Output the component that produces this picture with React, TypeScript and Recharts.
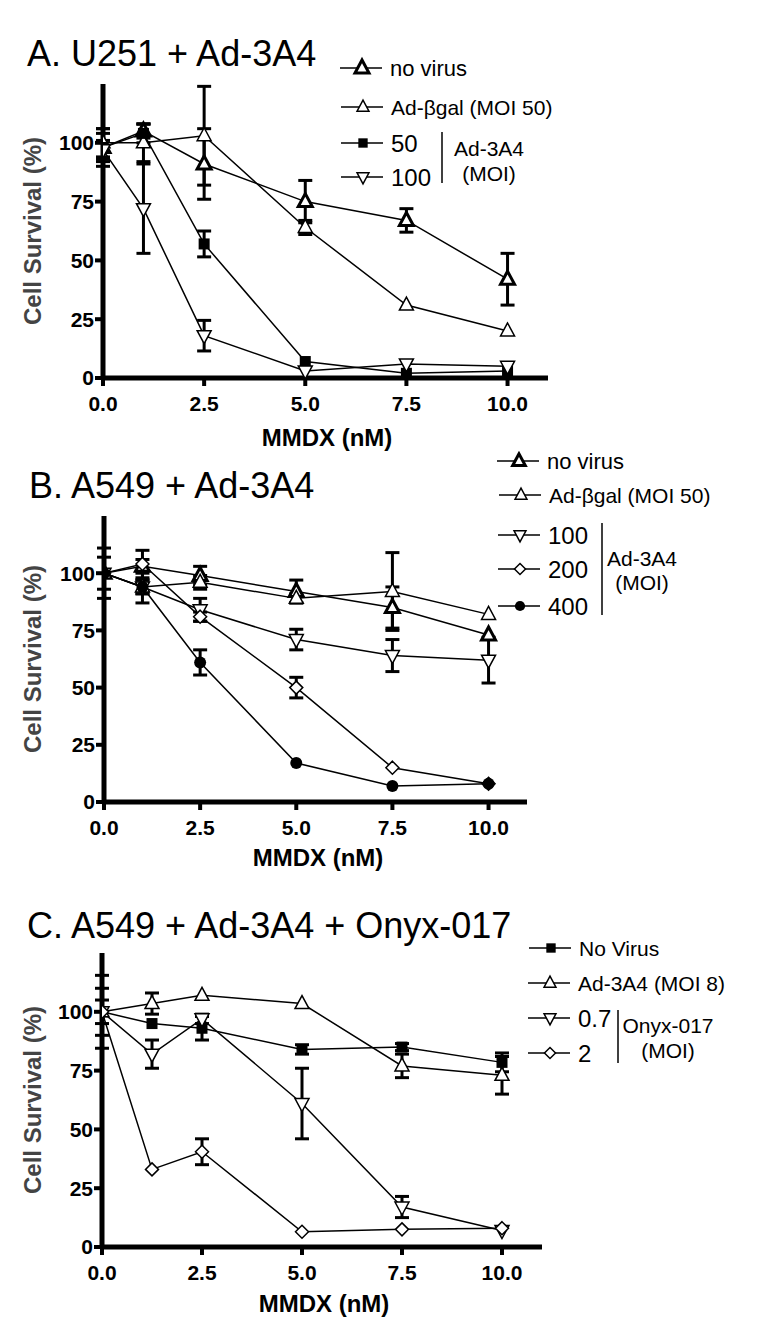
import React from 'react';
import { LineChart, Line, XAxis, YAxis, ErrorBar } from 'recharts';

const FONT = "'Liberation Sans', Arial, Helvetica, sans-serif";

// x positions (MMDX, nM)
const doseAB = [0, 1, 2.5, 5, 7.5, 10];
const doseC = [0, 1.25, 2.5, 5, 7.5, 10];
const xTicks = [0, 2.5, 5, 7.5, 10];
const yTicks = [0, 25, 50, 75, 100];

// Panel A: U251 + Ad-3A4
const aNoVirus = [98, 105, 91, 75, 67, 42];
const aNoVirusErr = [8, 3, 15, 9, 5, 11];
const aBgal = [100, 100, 103, 64, 31, 20];
const aBgalErr = [6, 8, 21, 3, 0, 0];
const a50 = [98, 104, 57, 7, 2, 3];
const a50Err = [6, 4, 5.5, 0, 0, 0];
const a100 = [97, 72, 18, 3, 6, 5];
const a100Err = [4, 19, 6.5, 0, 0, 0];

// Panel B: A549 + Ad-3A4
const bNoVirus = [100, 103, 99, 92, 85, 73];
const bNoVirusErr = [11, 3, 4, 5, 9, 0];
const bBgal = [100, 94, 96, 89, 92, 82];
const bBgalErr = [7, 3, 3, 2, 17, 0];
const b100 = [100, 94, 84, 71, 64, 62];
const b100Err = [0, 7, 5, 4.5, 7, 10];
const b200 = [100, 104, 81, 50, 15, 8];
const b200Err = [0, 6, 2, 4.5, 0, 0];
const b400 = [100, 94, 61, 17, 7, 8];
const b400Err = [0, 3, 5.5, 0, 0, 0];

// Panel C: A549 + Ad-3A4 + Onyx-017
const cNoVirus = [100, 95, 93, 84, 85, 78.5];
const cNoVirusErr = [5, 0, 5, 2, 1.5, 4];
const cAd3A4 = [100, 103.5, 107, 103.5, 77, 73];
const cAd3A4Err = [10, 4.5, 0, 0, 5, 8];
const cOnyx07 = [100, 82, 97, 61, 17, 7];
const cOnyx07Err = [15.5, 6, 2, 15, 4.5, 0];
const cOnyx2 = [100, 33, 40.5, 6.5, 7.5, 8];
const cOnyx2Err = [0, 0, 5.5, 0, 0, 0];

const toRows = (xs: number[], ys: number[], es: number[]) =>
  xs.map((x, i) => ({ x, y: ys[i], e: es[i] }));

type Kind = 'triBold' | 'tri' | 'inv' | 'square' | 'diamond' | 'circle';

function Marker({ kind, cx, cy, k = 1 }: { kind: Kind; cx: number; cy: number; k?: number }) {
  if (cx == null || cy == null) return null;
  switch (kind) {
    case 'triBold':
      return (
        <polygon
          points={`${cx},${cy - 8 * k} ${cx - 7 * k},${cy + 5 * k} ${cx + 7 * k},${cy + 5 * k}`}
          fill="#fff" stroke="#000" strokeWidth={3} strokeLinejoin="miter"
        />
      );
    case 'tri':
      return (
        <polygon
          points={`${cx},${cy - 8 * k} ${cx - 7 * k},${cy + 5 * k} ${cx + 7 * k},${cy + 5 * k}`}
          fill="#fff" stroke="#000" strokeWidth={1.5}
        />
      );
    case 'inv':
      return (
        <polygon
          points={`${cx},${cy + 8 * k} ${cx - 7 * k},${cy - 5 * k} ${cx + 7 * k},${cy - 5 * k}`}
          fill="#fff" stroke="#000" strokeWidth={1.5}
        />
      );
    case 'square':
      return <rect x={cx - 5.5 * k} y={cy - 5.5 * k} width={11 * k} height={11 * k} fill="#000" />;
    case 'diamond':
      return (
        <polygon
          points={`${cx},${cy - 6.5 * k} ${cx + 6.5 * k},${cy} ${cx},${cy + 6.5 * k} ${cx - 6.5 * k},${cy}`}
          fill="#fff" stroke="#000" strokeWidth={1.5}
        />
      );
    default:
      return <circle cx={cx} cy={cy} r={6 * k} fill="#000" />;
  }
}

interface Series {
  name: string;
  kind: Kind;
  rows: { x: number; y: number; e: number }[];
}

interface PanelProps {
  left: number;
  right: number;
  top: number;
  bottom: number;
  series: Series[];
}

function Panel({ left, right, top, bottom, series }: PanelProps) {
  const mt = 20;
  const xh = 50;
  const yw = 60;
  const height = mt + (bottom - top) + xh;
  return (
    <div style={{ position: 'absolute', left: 0, top: top - mt }}>
      <LineChart
        width={762}
        height={height}
        margin={{ top: mt, right: 762 - right, left: left - yw, bottom: 0 }}
      >
        <XAxis
          type="number"
          dataKey="x"
          domain={[0, 11]}
          ticks={xTicks}
          tickFormatter={(v: number) => v.toFixed(1)}
          allowDataOverflow
          height={xh}
          axisLine={{ stroke: '#000', strokeWidth: 5 }}
          tickLine={{ stroke: '#000', strokeWidth: 4 }}
          tickSize={8}
          tickMargin={10}
          tick={{ fill: '#000', fontSize: 21, fontWeight: 700, fontFamily: FONT }}
        />
        <YAxis
          type="number"
          domain={[0, 125]}
          ticks={yTicks}
          allowDataOverflow
          width={yw}
          axisLine={{ stroke: '#000', strokeWidth: 5 }}
          tickLine={{ stroke: '#000', strokeWidth: 4 }}
          tickSize={8}
          tickMargin={1}
          tick={{ fill: '#000', fontSize: 21, fontWeight: 700, fontFamily: FONT }}
        />
        {series.map((s) => (
          <Line
            key={s.name}
            data={s.rows}
            dataKey="y"
            name={s.name}
            stroke="#000"
            strokeWidth={1.5}
            isAnimationActive={false}
            activeDot={false}
            dot={(p: any) => <Marker key={`${s.name}-${p.index}`} kind={s.kind} cx={p.cx} cy={p.cy} />}
          >
            <ErrorBar dataKey="e" direction="y" width={7} stroke="#000" strokeWidth={3} />
          </Line>
        ))}
      </LineChart>
    </div>
  );
}

const seriesA: Series[] = [
  { name: 'no virus', kind: 'triBold', rows: toRows(doseAB, aNoVirus, aNoVirusErr) },
  { name: 'Ad-βgal (MOI 50)', kind: 'tri', rows: toRows(doseAB, aBgal, aBgalErr) },
  { name: '50', kind: 'square', rows: toRows(doseAB, a50, a50Err) },
  { name: '100', kind: 'inv', rows: toRows(doseAB, a100, a100Err) },
];

const seriesB: Series[] = [
  { name: 'no virus', kind: 'triBold', rows: toRows(doseAB, bNoVirus, bNoVirusErr) },
  { name: 'Ad-βgal (MOI 50)', kind: 'tri', rows: toRows(doseAB, bBgal, bBgalErr) },
  { name: '100', kind: 'inv', rows: toRows(doseAB, b100, b100Err) },
  { name: '200', kind: 'diamond', rows: toRows(doseAB, b200, b200Err) },
  { name: '400', kind: 'circle', rows: toRows(doseAB, b400, b400Err) },
];

const seriesC: Series[] = [
  { name: 'No Virus', kind: 'square', rows: toRows(doseC, cNoVirus, cNoVirusErr) },
  { name: 'Ad-3A4 (MOI 8)', kind: 'tri', rows: toRows(doseC, cAd3A4, cAd3A4Err) },
  { name: '0.7', kind: 'inv', rows: toRows(doseC, cOnyx07, cOnyx07Err) },
  { name: '2', kind: 'diamond', rows: toRows(doseC, cOnyx2, cOnyx2Err) },
];

function LegendRow({ x, y, kind, label, size = 21, k = 0.85 }: { x: number; y: number; kind: Kind; label: string; size?: number; k?: number }) {
  return (
    <g>
      <line x1={x} y1={y} x2={x + 42} y2={y} stroke="#000" strokeWidth={1.5} />
      <Marker kind={kind} cx={x + 22} cy={y} k={k} />
      <text x={x + 50} y={y} dominantBaseline="central" fontSize={size} fontFamily={FONT} fill="#000">
        {label}
      </text>
    </g>
  );
}

function Group({ x, y1, y2, cx, lines, ty }: { x: number; y1: number; y2: number; cx: number; lines: string[]; ty: number[] }) {
  return (
    <g>
      <line x1={x} y1={y1} x2={x} y2={y2} stroke="#000" strokeWidth={1.5} />
      {lines.map((t, i) => (
        <text key={t} x={cx} y={ty[i]} textAnchor="middle" dominantBaseline="central" fontSize={21} fontFamily={FONT}>
          {t}
        </text>
      ))}
    </g>
  );
}

function YLabel({ cy }: { cy: number }) {
  return (
    <text
      x={32}
      y={cy}
      transform={`rotate(-90 32 ${cy})`}
      textAnchor="middle"
      dominantBaseline="central"
      fontSize={24}
      fontWeight={700}
      fontFamily={FONT}
      fill="#444"
    >
      Cell Survival (%)
    </text>
  );
}

function XLabel({ cx, cy }: { cx: number; cy: number }) {
  return (
    <text x={cx} y={cy} textAnchor="middle" dominantBaseline="central" fontSize={24} fontWeight={700} fontFamily={FONT}>
      MMDX (nM)
    </text>
  );
}

export default function App() {
  return (
    <div style={{ position: 'absolute', left: 0, top: 0, width: 762, height: 1336, background: '#fff', overflow: 'hidden' }}>
      <Panel left={103} right={548} top={84} bottom={378} series={seriesA} />
      <Panel left={104} right={527} top={516} bottom={802} series={seriesB} />
      <Panel left={102} right={542} top={953} bottom={1247} series={seriesC} />

      <svg width={762} height={1336} style={{ position: 'absolute', left: 0, top: 0, pointerEvents: 'none' }}>
        {/* titles */}
        <text x={27} y={53} dominantBaseline="central" fontSize={36} fontFamily={FONT}>A. U251 + Ad-3A4</text>
        <text x={29} y={485} dominantBaseline="central" fontSize={36} fontFamily={FONT}>B. A549 + Ad-3A4</text>
        <text x={27} y={925} dominantBaseline="central" fontSize={36} fontFamily={FONT}>C. A549 + Ad-3A4 + Onyx-017</text>

        <YLabel cy={231} />
        <YLabel cy={659} />
        <YLabel cy={1100} />
        <XLabel cx={327} cy={437} />
        <XLabel cx={318} cy={857} />
        <XLabel cx={324} cy={1303} />

        {/* legend A */}
        <LegendRow x={340} y={68} kind="triBold" label="no virus" size={22} k={1} />
        <LegendRow x={341} y={107} kind="tri" label="Ad-βgal (MOI 50)" />
        <LegendRow x={341} y={143} kind="square" label="50" size={24} />
        <LegendRow x={341} y={177} kind="inv" label="100" size={24} />
        <Group x={442} y1={132} y2={183} cx={489} lines={['Ad-3A4', '(MOI)']} ty={[148, 173]} />

        {/* legend B */}
        <LegendRow x={497} y={461} kind="triBold" label="no virus" size={22} k={0.9} />
        <LegendRow x={499} y={495} kind="tri" label="Ad-βgal (MOI 50)" />
        <LegendRow x={498} y={535} kind="inv" label="100" size={24} />
        <LegendRow x={498} y={569} kind="diamond" label="200" size={24} />
        <LegendRow x={498} y={606} kind="circle" label="400" size={24} />
        <Group x={602} y1={523} y2={615} cx={642} lines={['Ad-3A4', '(MOI)']} ty={[558, 582]} />

        {/* legend C */}
        <LegendRow x={529} y={948} kind="square" label="No Virus" />
        <LegendRow x={528} y={983} kind="tri" label="Ad-3A4 (MOI 8)" />
        <LegendRow x={528} y={1018} kind="inv" label="0.7" size={24} />
        <LegendRow x={528} y={1053} kind="diamond" label="2" size={24} />
        <Group x={618} y1={1010} y2={1063} cx={668} lines={['Onyx-017', '(MOI)']} ty={[1025, 1050]} />
      </svg>
    </div>
  );
}
